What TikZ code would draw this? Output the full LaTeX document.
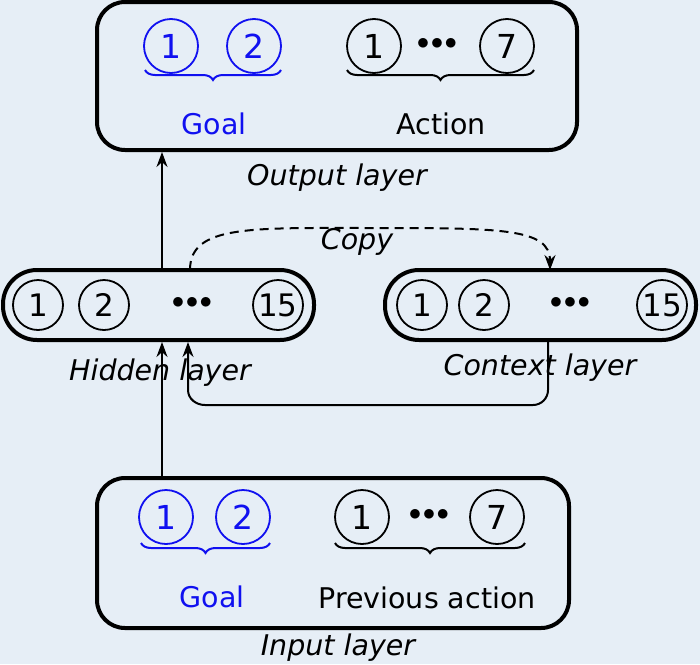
\documentclass[tikz,border=0pt]{standalone}
\usepackage{fontspec}
\setmainfont{DejaVu Sans}
\usetikzlibrary{decorations.pathreplacing,arrows.meta}
\definecolor{bg}{HTML}{E6EEF6}
\definecolor{myblue}{HTML}{1010F0}
\begin{document}
\begin{tikzpicture}[x=1pt,y=-1pt,
  box/.style={draw,line width=4pt,rounded corners=28pt},
  neu/.style={circle,draw,line width=1.8pt,minimum size=54pt,inner sep=0pt,font=\fontsize{33}{35}\selectfont},
  hn/.style={circle,draw,line width=1.8pt,minimum size=50pt,inner sep=0pt,font=\fontsize{31}{33}\selectfont},
  bneu/.style={neu,draw=myblue,text=myblue},
  dots/.style={font=\fontsize{30}{32}\selectfont},
  lbl/.style={font=\fontsize{28.5}{32}\selectfont},
  ilbl/.style={font=\fontsize{28.5}{32}\selectfont\itshape},
  br/.style={decorate,decoration={brace,mirror,amplitude=10pt},line width=2pt},
  arr/.style={line width=2pt,-{Stealth[length=15pt,width=11pt]}}]
\fill[bg] (0,0) rectangle (700,664);
\useasboundingbox (0,0) rectangle (700,664);
% output
\draw[box] (97,2) rectangle (577,150);
\node[bneu] (o1) at (171,46) {1};
\node[bneu] (o2) at (254,46) {2};
\node[neu] (oa1) at (374,46) {1};
\node[dots] (od) at (437,44) {$\bullet\!\bullet\!\bullet$};
\node[neu] (oa7) at (507,46) {7};
\draw[br,myblue] (145,70) -- (281,70);
\draw[br] (347,70) -- (534,70);
\node[lbl,text=myblue] (og) at (214,124) {Goal};
\node[lbl] (oact) at (441,124) {Action};
\node[ilbl] (ol) at (337,178) {Output layer};
\coordinate (outb) at (162,152);
% hidden
\draw[box,rounded corners=34pt] (3,270) rectangle (314,340);
\node[hn] (h1) at (38,305) {1};
\node[hn] (h2) at (104,305) {2};
\node[dots] (hd) at (192,303) {$\bullet\!\bullet\!\bullet$};
\node[hn] (h15) at (278,305) {15};
\node[ilbl] (hl) at (160,373) {Hidden layer};
% context
\draw[box,rounded corners=34pt] (385,270) rectangle (696,340);
\node[hn] (c1) at (422,305) {1};
\node[hn] (c2) at (484,305) {2};
\node[dots] (cd) at (570,303) {$\bullet\!\bullet\!\bullet$};
\node[hn] (c15) at (662,305) {15};
\node[ilbl] (cl) at (540,368) {Context layer};
% input
\draw[box] (97,478) rectangle (569,628);
\node[bneu] (i1) at (166,517) {1};
\node[bneu] (i2) at (243,517) {2};
\node[neu] (ia1) at (362,517) {1};
\node[dots] (id) at (429,515) {$\bullet\!\bullet\!\bullet$};
\node[neu] (ia7) at (497,517) {7};
\draw[br,myblue] (141,543) -- (270,543);
\draw[br] (335,543) -- (525,543);
\node[lbl,text=myblue] (ig) at (212,597) {Goal};
\node[lbl] (ip) at (427,598) {Previous action};
\node[ilbl] (il) at (338,648) {Input layer};
% connectors
\coordinate (hT) at (162,270);
\coordinate (hB) at (162,342);
\coordinate (iT) at (162,478);
\draw[arr] (hT) -- (outb);
\draw[arr] (iT) -- (hB);
\coordinate (cs) at (190,270);
\coordinate (ce) at (550,270);
\draw[arr,dash pattern=on 9pt off 6pt] (cs) .. controls (190,225) and (250,228) .. (370,228) .. controls (500,228) and (550,228) .. (ce);
\node[ilbl] (copy) at (357,242) {Copy};
\coordinate (rb) at (548,340);
\coordinate (ht2) at (188,342);
\draw[arr] (rb) -- (548,390) to[out=-90,in=0] (533,405) -- (205,405) to[out=180,in=-90] (188,390) -- (ht2);
\end{tikzpicture}
\end{document}
